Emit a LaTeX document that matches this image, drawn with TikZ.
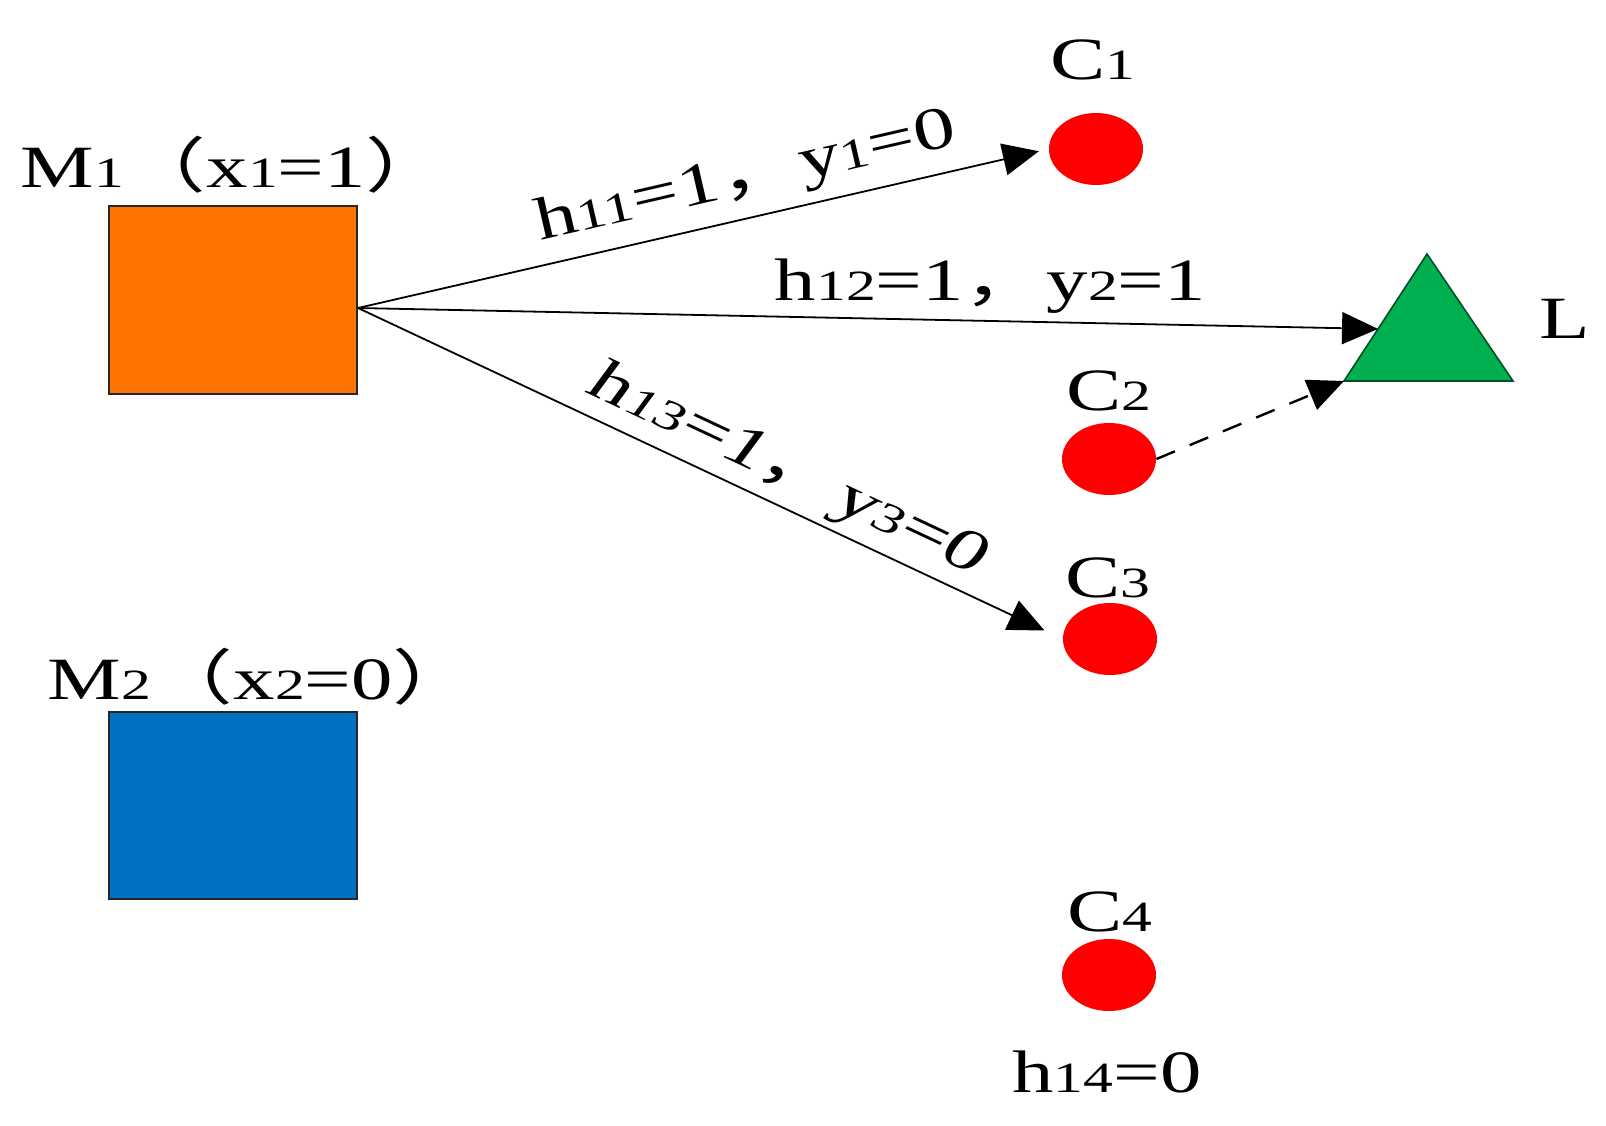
\documentclass[tikz,border=0pt]{standalone}
\usepackage{graphicx}
\usepackage{fontspec}
\setmainfont[FakeStretch=1.38]{Liberation Serif}
\newfontfamily\cjk[FakeStretch=1.38]{Noto Sans CJK SC}
\newfontfamily\slfont[FakeStretch=1.38,FakeSlant=0.2]{Liberation Serif}
\usetikzlibrary{arrows.meta,shapes.geometric,calc}
\definecolor{orangeM}{RGB}{255,115,0}
\definecolor{blueM}{RGB}{0,112,192}
\definecolor{greenL}{RGB}{0,176,80}
\newcommand\ix[1]{\scalebox{0.72}{#1}}
\begin{document}
\begin{tikzpicture}[x=0.5pt,y=-0.5pt,
  font=\fontsize{30}{36}\selectfont,
  box/.style={draw=black!85, line width=1pt, minimum width=124pt, minimum height=94pt, inner sep=0},
  dot/.style={ellipse, fill=red, minimum width=47pt, minimum height=36pt, inner sep=0},
  txt/.style={anchor=base, inner sep=0},
  arr/.style={-{Triangle[length=18pt,width=16pt]}, line width=0.9pt}]
\useasboundingbox (0,0) rectangle (1606,1125);
% machines
\node[box, fill=orangeM] (M1) at (233,300) {};
\node[box, fill=blueM, minimum height=93.5pt] (M2) at (233,805.5) {};
\node[txt, anchor=base west] (m1l) at (20,187) {M\ix{1}{\cjk （}x\ix{1}=1{\cjk ）}};
\node[txt, anchor=base west] (m2l) at (47,699) {M\ix{2}{\cjk （}x\ix{2}=0{\cjk ）}};
% customers
\node[dot] (C1) at (1096,149) {};
\node[dot] (C2) at (1109,459) {};
\node[dot] (C3) at (1110,639) {};
\node[dot] (C4) at (1109,975) {};
\node[txt] (c1l) at (1093,79) {C\ix{1}};
\node[txt] (c2l) at (1109,410) {C\ix{2}};
\node[txt] (c3l) at (1108,597) {C\ix{3}};
\node[txt] (c4l) at (1110,931) {C\ix{4}};
\node[txt] (h14) at (1107,1092) {h\ix{14}=0};
% location
\coordinate (Ltop) at (1427,254);
\coordinate (Lbl) at (1344,381);
\coordinate (Lbr) at (1513,381);
\draw[fill=greenL, draw=black!55!greenL, line width=0.8pt] (Ltop) -- (Lbr) -- (Lbl) -- cycle;
\coordinate (Lin) at ($(Lbl)!0.41!(Ltop)$);
\node[txt, anchor=base west] (ll) at (1539,338) {L};
% connectors
\coordinate (S) at ([yshift=-4pt]M1.east);
\draw[arr, shorten >=5pt] (S) -- (C1.west)
  node[sloped, above=2pt, pos=0.575] (t1) {h\ix{11}=1{\cjk ，}y\ix{1}=0};
\draw[arr] (S) -- (Lin)
  node[above, pos=0.62] (t2) {h\ix{12}=1{\cjk ，}y\ix{2}=1};
\draw[arr, shorten >=10pt] (S) -- (C3.west)
  node[sloped, above, pos=0.585] (t3) {\slfont h\ix{13}=1{\cjk ，}y\ix{3}=0};
\draw[arr, line width=1.2pt, dash pattern=on 10pt off 8pt] (C2.east) -- (Lbl);
\end{tikzpicture}
\end{document}
